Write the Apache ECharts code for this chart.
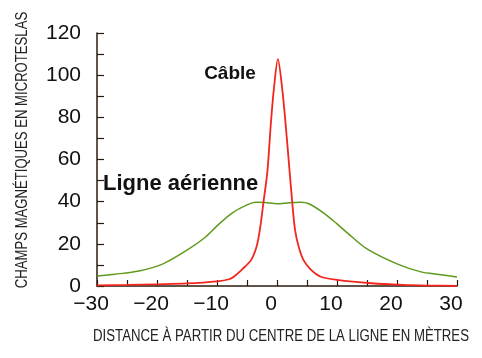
<!DOCTYPE html>
<html>
<head>
<meta charset="utf-8">
<script src="https://cdn.jsdelivr.net/npm/echarts@6/dist/echarts.min.js"></script>
<style>
html,body{margin:0;padding:0;background:#fff;}
#c{width:482px;height:358px;}
</style>
</head>
<body>
<div id="c"></div>
<script>
// Ligne aérienne (overhead line)
const lineX = [-30,-27,-23,-19,-15,-12,-10,-7.5,-5,-3.5,-2,0,2,4,5.3,7.8,10,12,15,20,24,27,30];
const lineY = [4.8,5.6,7.1,10.5,17,23,28.5,34.6,38.5,39.7,39.6,39,39.5,39.7,39,34.6,29.5,24.5,17.6,10.5,6.7,5.5,4.3];
// Câble (underground cable)
const cableX = [-30,-25,-20,-15,-10,-8,-7.2,-5.8,-4.3,-3.4,-2.85,-2.2,-1.6,-1,-0.5,0.15,0.85,1.4,2.1,2.5,3,3.6,4.4,5.6,7.3,10,15.7,21,25,30];
const cableY = [0.3,0.5,0.8,1.2,2.2,3.2,4.4,7.9,12.4,18.7,26.7,41,54.4,78,94,107.6,94,78,54.4,41,26.7,18.7,12.4,7.9,4.4,2.9,1.3,0.5,0.2,0.1];
const xTicks = [-30,-20,-10,0,10,20,30];
const yTicks = [0,20,40,60,80,100,120];
const seriesNames = ['Ligne aérienne','Câble'];
const xTitle = 'DISTANCE À PARTIR DU CENTRE DE LA LIGNE EN MÈTRES';
const yTitle = 'CHAMPS MAGNÉTIQUES EN MICROTESLAS';

const sans = '"Liberation Sans", Arial, Helvetica, sans-serif';
const axisColor = '#2b1a0c';

const chart = echarts.init(document.getElementById('c'), null, {renderer:'canvas'});
chart.setOption({
  animation:false,
  backgroundColor:'#fff',
  grid:{left:97,right:25,top:33,bottom:72,containLabel:false,outerBoundsMode:'none'},
  xAxis:{
    type:'value', min:xTicks[0], max:xTicks[xTicks.length-1], interval:10,
    axisLine:{show:true,onZero:false,lineStyle:{color:axisColor,width:1.5}},
    axisTick:{show:true,inside:true,length:6,lineStyle:{color:axisColor,width:1.2}},
    minorTick:{show:true,splitNumber:2,length:6,lineStyle:{color:axisColor,width:1.2}},
    splitLine:{show:false},
    axisLabel:{
      color:'#111', fontFamily:sans, fontSize:21, margin:8, padding:[0,12,0,0],
      formatter:v=> String(v).replace('-','\u2212')
    }
  },
  yAxis:{
    type:'value', min:yTicks[0], max:yTicks[yTicks.length-1], interval:20,
    axisLine:{show:true,onZero:false,lineStyle:{color:axisColor,width:1.5}},
    axisTick:{show:true,inside:true,length:7,lineStyle:{color:axisColor,width:1.2}},
    minorTick:{show:true,splitNumber:2,length:7,lineStyle:{color:axisColor,width:1.2}},
    splitLine:{show:false},
    axisLabel:{color:'#111',fontFamily:sans,fontSize:21,margin:16,padding:[0,0,9,0]}
  },
  graphic:[
    {type:'text', x:23, y:150, rotation:Math.PI/2, scaleX:0.82,
     style:{text:yTitle, fill:'#222', font:'16px '+sans, align:'center', verticalAlign:'middle'}},
    {type:'text', x:281, y:337, scaleX:0.826,
     style:{text:xTitle, fill:'#222', font:'16px '+sans, align:'center', verticalAlign:'middle'}},
    {type:'text', x:230, y:74,
     style:{text:seriesNames[1], fill:'#111', font:'bold 19px '+sans, align:'center', verticalAlign:'middle'}},
    {type:'text', x:103, y:184,
     style:{text:seriesNames[0], fill:'#111', font:'bold 22px '+sans, align:'left', verticalAlign:'middle'}}
  ],
  series:[
    {name:seriesNames[0], type:'line', showSymbol:false, smooth:0.3,
     data:lineX.map((x,i)=>[x,lineY[i]]),
     lineStyle:{color:'#5f9a1e',width:1.5}, z:2},
    {name:seriesNames[1], type:'line', showSymbol:false, smooth:0.3,
     data:cableX.map((x,i)=>[x,cableY[i]]),
     lineStyle:{color:'#f2261c',width:1.8}, z:3}
  ]
});
</script>
</body>
</html>
